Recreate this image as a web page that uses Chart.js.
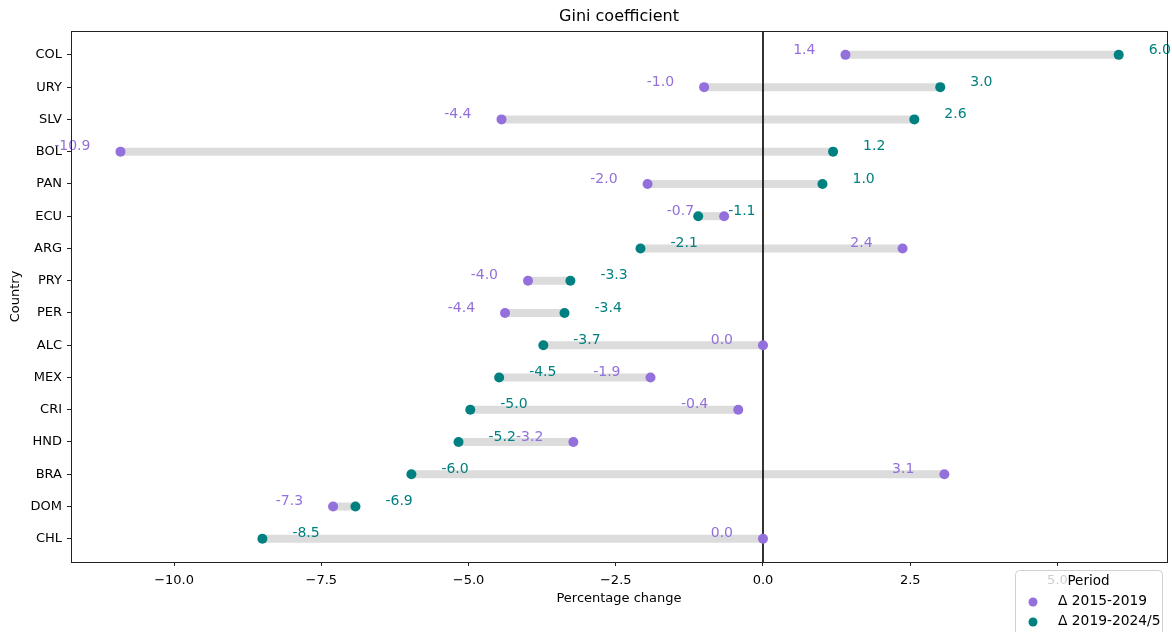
<!DOCTYPE html>
<html>
<head>
<meta charset="utf-8">
<title>Gini coefficient</title>
<script src="https://cdn.jsdelivr.net/npm/chart.js@4.4.1/dist/chart.umd.min.js"></script>
<style>
  html, body { margin: 0; padding: 0; background: #fff; }
  canvas { display: block; }
</style>
</head>
<body>
<canvas id="gini" width="1172" height="632"></canvas>
<script>
// Data (percentage change of the Gini coefficient)
const countries = ["COL", "URY", "SLV", "BOL", "PAN", "ECU", "ARG", "PRY", "PER", "ALC", "MEX", "CRI", "HND", "BRA", "DOM", "CHL"];
const delta2015to2019 = [1.40, -1.00, -4.44, -10.91, -1.96, -0.66, 2.37, -3.99, -4.38, 0.00, -1.91, -0.42, -3.22, 3.08, -7.30, 0.00];
const delta2019to2024 = [6.04, 3.01, 2.57, 1.19, 1.01, -1.10, -2.08, -3.27, -3.37, -3.73, -4.48, -4.97, -5.17, -5.97, -6.92, -8.50];
const xTickValues = [-10, -7.5, -5, -2.5, 0, 2.5, 5];
const periodLabels = ["\u0394 2015-2019", "\u0394 2019-2024/5"];

const PURPLE = "#9370DB";
const TEAL = "#008080";
const FONT = "DejaVu Sans";

const xMin = -11.75, xMax = 6.86;
const yMin = -0.74, yMax = 15.72;

// grey connector per country
const segments = countries.map((c, i) => ({
  label: "seg-" + c,
  data: [{ x: delta2015to2019[i], y: i }, { x: delta2019to2024[i], y: i }],
  showLine: true,
  borderColor: "#dcdcdc",
  borderWidth: 8,
  borderCapStyle: "butt",
  pointRadius: 0,
  order: 3,
}));

// annotations, title, frame and legend
const decorations = {
  id: "decorations",
  afterDatasetsDraw(chart) {
    const { ctx, chartArea: a, scales: { x, y } } = chart;
    ctx.save();
    ctx.font = "14px '" + FONT + "'";
    ctx.textBaseline = "middle";
    countries.forEach((c, i) => {
      const py = y.getPixelForValue(i) - 5;
      ctx.fillStyle = PURPLE;
      ctx.textAlign = "right";
      ctx.fillText(delta2015to2019[i].toFixed(1), x.getPixelForValue(delta2015to2019[i]) - 30, py);
      ctx.fillStyle = TEAL;
      ctx.textAlign = "left";
      ctx.fillText(delta2019to2024[i].toFixed(1), x.getPixelForValue(delta2019to2024[i]) + 30, py);
    });
    // axes frame
    ctx.strokeStyle = "#222";
    ctx.lineWidth = 1;
    ctx.strokeRect(Math.round(a.left) + 0.5, Math.round(a.top) + 0.5, Math.round(a.right - a.left), Math.round(a.bottom - a.top));
    // title
    ctx.fillStyle = "#000";
    ctx.font = "16px '" + FONT + "'";
    ctx.textAlign = "center";
    ctx.fillText("Gini coefficient", (a.left + a.right) / 2, 17);
    ctx.restore();
  },
  afterDraw(chart) {
    const { ctx } = chart;
    ctx.save();
    const lx = 1015, ly = 570, lw = 147, lh = 75;
    ctx.beginPath();
    ctx.roundRect(lx + 0.5, ly + 0.5, lw, lh, 4);
    ctx.fillStyle = "rgba(255,255,255,0.8)";
    ctx.fill();
    ctx.strokeStyle = "#d0d0d0";
    ctx.lineWidth = 1;
    ctx.stroke();
    ctx.textBaseline = "middle";
    ctx.fillStyle = "#000";
    ctx.textAlign = "center";
    ctx.font = "13.5px '" + FONT + "'";
    ctx.fillText("Period", lx + lw / 2, 581);
    ctx.textAlign = "left";
    ctx.font = "13.8px '" + FONT + "'";
    [PURPLE, TEAL].forEach((col, k) => {
      const cy = 602 + k * 20;
      ctx.beginPath();
      ctx.arc(1033, cy, 4.5, 0, Math.PI * 2);
      ctx.fillStyle = col;
      ctx.fill();
      ctx.fillStyle = "#000";
      ctx.fillText(periodLabels[k], 1058, cy - 1);
    });
    ctx.restore();
  },
};

new Chart(document.getElementById("gini"), {
  type: "scatter",
  data: {
    datasets: [
      {
        label: periodLabels[0],
        data: countries.map((c, i) => ({ x: delta2015to2019[i], y: i })),
        backgroundColor: PURPLE,
        borderColor: PURPLE,
        pointRadius: 5,
        borderWidth: 0,
        order: 0,
      },
      {
        label: periodLabels[1],
        data: countries.map((c, i) => ({ x: delta2019to2024[i], y: i })),
        backgroundColor: TEAL,
        borderColor: TEAL,
        pointRadius: 5,
        borderWidth: 0,
        order: 1,
      },
      {
        label: "zero",
        data: [{ x: 0, y: yMin }, { x: 0, y: yMax }],
        showLine: true,
        borderColor: "#000",
        borderWidth: 1.6,
        pointRadius: 0,
        order: 2,
      },
      ...segments,
    ],
  },
  options: {
    responsive: false,
    devicePixelRatio: 1,
    animation: false,
    events: [],
    layout: { padding: { top: 31, right: 5, left: 0, bottom: 0 } },
    plugins: {
      legend: { display: false },
      tooltip: { enabled: false },
      title: { display: false },
    },
    scales: {
      x: {
        type: "linear",
        min: xMin,
        max: xMax,
        afterBuildTicks(axis) {
          axis.ticks = xTickValues.map((v) => ({ value: v }));
        },
        afterFit(axis) {
          axis.height = 70;
        },
        ticks: {
          color: "#000",
          font: { family: FONT, size: 13 },
          padding: 7,
          maxRotation: 0,
          callback: (v) => Number(v).toFixed(1).replace("-", "\u2212"),
        },
        grid: { drawOnChartArea: false, drawTicks: true, tickLength: 4, color: "#222" },
        border: { display: false },
        title: {
          display: true,
          text: "Percentage change",
          color: "#000",
          font: { family: FONT, size: 13 },
          padding: { top: 0, bottom: 26 },
        },
      },
      y: {
        type: "linear",
        reverse: true,
        min: yMin,
        max: yMax,
        afterBuildTicks(axis) {
          axis.ticks = countries.map((c, i) => ({ value: i }));
        },
        afterFit(axis) {
          axis.width = 71;
        },
        ticks: {
          color: "#000",
          font: { family: FONT, size: 13 },
          padding: 5,
          callback: (v) => countries[v],
        },
        grid: { drawOnChartArea: false, drawTicks: true, tickLength: 4, color: "#222" },
        border: { display: false },
        title: {
          display: true,
          text: "Country",
          color: "#000",
          font: { family: FONT, size: 13 },
          padding: { top: 8, bottom: 0 },
        },
      },
    },
  },
  plugins: [decorations],
});
</script>
</body>
</html>
